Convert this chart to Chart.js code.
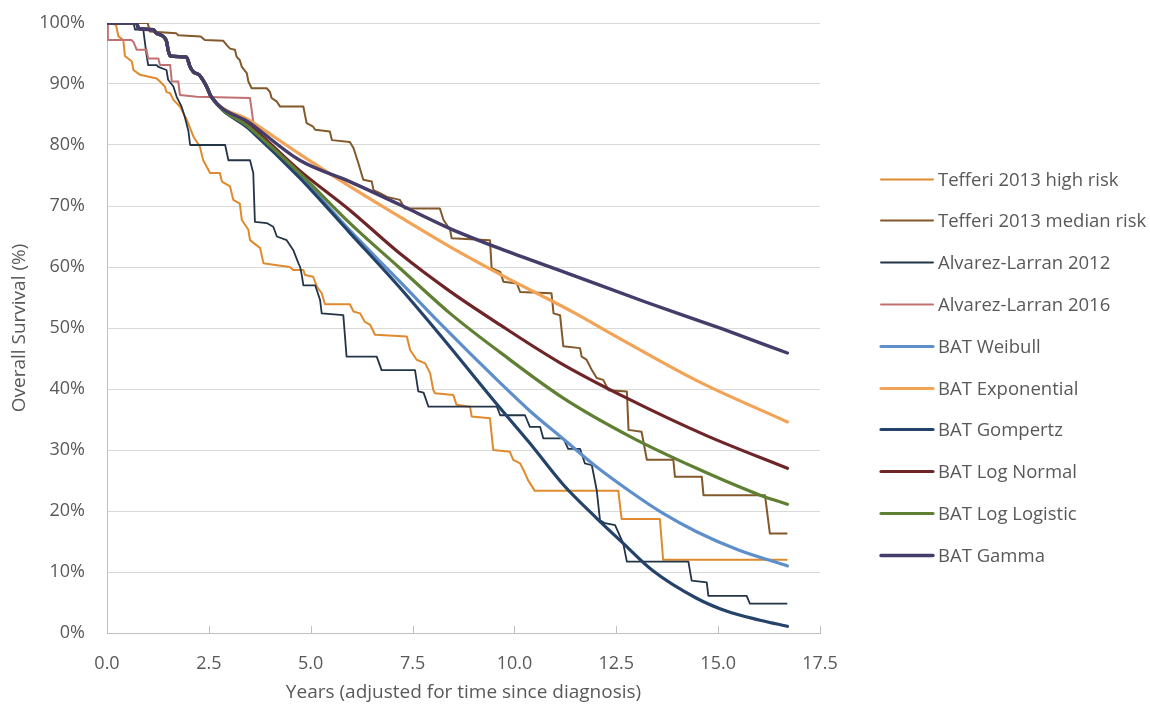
<!DOCTYPE html>
<html>
<head>
<meta charset="utf-8">
<script src="https://cdn.jsdelivr.net/npm/chart.js@4.4.1/dist/chart.umd.min.js"></script>
<style>
html,body{margin:0;padding:0;background:#fff;}
#wrap{width:1150px;height:704px;position:relative;}
</style>
</head>
<body>
<div id="wrap"><canvas id="c"></canvas></div>
<script>
// ---------- data ----------
const seriesNames = ["Tefferi 2013 high risk","Tefferi 2013 median risk","Alvarez-Larran 2012","Alvarez-Larran 2016",
  "BAT Weibull","BAT Exponential","BAT Gompertz","BAT Log Normal","BAT Log Logistic","BAT Gamma"];

const xTicks = [0,2.5,5,7.5,10,12.5,15,17.5];
const yTicks = [0,10,20,30,40,50,60,70,80,90,100];

// Kaplan-Meier style curves (years, % survival)
const tefferiHighT = [0,0.22,0.28,0.4,0.44,0.61,0.65,0.81,1.22,1.3,1.42,1.46,1.55,1.63,1.79,1.96,2.12,2.28,2.36,2.53,2.77,2.82,3.02,3.1,3.26,3.31,3.47,3.51,3.76,3.84,4.17,4.49,4.57,4.82,4.86,5.06,5.15,5.27,5.35,5.96,6.05,6.21,6.33,6.46,6.58,7.36,7.44,7.6,7.81,7.93,8.01,8.05,8.5,8.58,8.91,8.95,9.4,9.48,9.89,9.97,10.14,10.26,10.33,10.5,12.55,12.63,13.57,13.65,16.68];
const tefferiHighV = [100,99.7,97.8,97.2,94.6,93.7,92.3,91.5,90.9,90.4,89.6,88.7,88.5,87.4,86.3,84.1,81.4,79.7,77.5,75.4,75.4,74,73.2,71,70.4,67.7,66.1,64.4,63.1,60.6,60.3,60,59.5,59.5,58.7,58.4,56.8,55.7,53.9,53.9,52.7,52.4,51,50.5,48.9,48.6,46.4,44.8,44.2,42.6,39.8,39.3,39,37.4,37.1,35.5,35.2,30,29.7,28.4,27.8,26.2,25.1,23.3,23.3,18.7,18.7,12,12];

const tefferiMedT = [0,1.0,1.05,1.7,1.75,2.3,2.4,2.85,2.95,3.02,3.14,3.18,3.26,3.31,3.43,3.47,3.55,3.92,4.0,4.04,4.17,4.25,4.82,4.86,4.9,5.06,5.11,5.47,5.52,5.96,6.05,6.17,6.29,6.5,6.54,6.7,6.87,7.19,7.31,8.17,8.26,8.42,8.46,9.4,9.44,9.65,9.73,10.06,10.14,10.91,10.96,11.12,11.2,11.61,11.65,11.77,11.9,12.02,12.18,12.31,12.76,12.8,13.12,13.25,13.9,13.94,14.6,14.64,16.15,16.27,16.68];
const tefferiMedV = [100,100,98.6,98.3,98,97.8,97.2,97.1,96.3,95.8,95.6,94.5,93.9,92.8,91.8,90.4,89.3,89.3,88.7,87.7,87.1,86.3,86.3,84.9,83.6,83,82.5,82.2,80.8,80.5,79.5,77,74.3,74,72.6,72.1,71.5,71,69.6,69.6,67.7,66.1,64.7,64.4,59.8,59.2,57.6,57.3,55.9,55.7,52.4,52.1,47,46.7,45.3,44.8,43.1,41.8,41.5,39.8,39.6,33.3,33,28.4,28.4,25.6,25.6,22.6,22.6,16.3,16.3];

const alvarez2012T = [0,0.65,0.69,0.89,0.97,1.01,1.22,1.26,1.46,1.5,1.63,1.71,1.83,1.91,2.0,2.04,2.9,2.98,3.51,3.59,3.63,3.92,4.08,4.17,4.41,4.57,4.7,4.74,4.78,4.82,5.11,5.23,5.27,5.8,5.88,6.62,6.74,7.56,7.64,7.77,7.89,9.57,9.65,10.26,10.38,10.63,10.71,11.2,11.32,11.61,11.73,11.9,12.02,12.1,12.22,12.47,12.67,12.76,14.27,14.35,14.72,14.76,15.7,15.78,16.68];
const alvarez2012V = [100,100,98.9,98.9,94.8,93.1,93.1,92.8,92.3,90.7,89.6,87.9,86.3,84.6,82.2,80,80,77.5,77.5,75.4,67.4,67.2,66.6,65,64.4,62.8,60.6,60,58.7,57,57,54.6,52.4,52.1,45.3,45.3,43.1,43.1,39.6,39.4,37.1,37.1,35.7,35.7,33.8,33.8,31.9,31.9,30.2,30.2,27.8,27.5,23.4,18.5,18,17.7,14.7,11.7,11.7,8.6,8.3,6.1,6.1,4.8,4.8];

const alvarez2016T = [0,0.02,0.6,0.65,0.73,0.97,1.01,1.26,1.3,1.55,1.59,1.75,1.79,2.2,3.51,3.59];
const alvarez2016V = [100,97.2,97.2,96.9,95.6,95.6,94.2,94.2,93.1,93.1,90.4,90.4,88.2,87.9,87.7,83.8];

// BAT fitted curves: common observed start, then each model's extrapolation
const batEarlyT = [0,0.73,0.77,1.14,1.2,1.38,1.46,1.5,1.55,1.95,2.04,2.12,2.26,2.36,2.45,2.55];
const batEarlyV = [100,100,99.1,98.9,98.4,97.8,97,95.6,94.6,94.4,92.8,92,91.5,90.6,89.5,88];

const weibullT = [3.51,4.73,5.96,7.19,8.17,9.65,10.38,11.2,12.02,12.84,13.65,14.47,15.5,16.7];
const weibullV = [82.6,75,66,57.6,50.8,41,36.4,31.8,27.2,23.2,19.6,16.6,13.6,11];

const exponentialT = [3.51,4.73,5.96,7.19,8.42,9.65,11.44,12.5,14.5,16.7];
const exponentialV = [84,78.5,73.2,68.2,63.3,58.8,52.6,48.6,41.3,34.6];

const gompertzT = [3.51,4.73,5.96,7.19,8.17,9.57,10.38,11.2,12.02,12.67,13.4,14.47,15.2,16.03,16.7];
const gompertzV = [82.5,74.6,65.6,56.6,48.9,37.5,31.1,24.3,18.8,14.7,10.2,5.7,3.6,2.1,1.1];

const logNormalT = [3.51,4.73,5.96,7.19,8.42,9.65,11.12,12.76,14.7,16.7];
const logNormalV = [83.2,75.8,69.3,62.2,56,50.5,44.3,38.5,32.4,27];

const logLogisticT = [3.51,4.73,5.96,7.19,8.42,9.65,11.2,12.84,14.47,16.03,16.7];
const logLogisticV = [82.8,75.4,67.2,59.8,52.4,46,38.5,32.2,27,22.6,21.1];

const gammaT = [3.51,4.73,5.96,7.19,8.42,9.65,11.29,13.2,15.12,16.7];
const gammaV = [83.6,77.5,74,70.2,66.3,63,59,54.3,49.8,45.9];

// ---------- styling ----------
const seriesColors = ["#E08A2E","#83582A","#233447","#C07070","#5E8FCB","#F2A356","#24426A","#6E2528","#5F7F32","#463C6A"];
const seriesWidths = [2,2,1.8,2,3.2,3.2,3.2,3.2,3.2,3.4];
const FONT = "'Open Sans', sans-serif";
const TXT = "#595959";

function pts(t, v){ return t.map((x,i)=>({x:x, y:v[i]})); }
function batPts(t, v){ return pts(batEarlyT.concat(t), batEarlyV.concat(v)); }

const seriesData = [
  pts(tefferiHighT, tefferiHighV),
  pts(tefferiMedT, tefferiMedV),
  pts(alvarez2012T, alvarez2012V),
  pts(alvarez2016T, alvarez2016V),
  batPts(weibullT, weibullV),
  batPts(exponentialT, exponentialV),
  batPts(gompertzT, gompertzV),
  batPts(logNormalT, logNormalV),
  batPts(logLogisticT, logLogisticV),
  batPts(gammaT, gammaV)
];

const datasets = seriesData.map((d,i)=>({
  label: seriesNames[i],
  data: d,
  borderColor: seriesColors[i],
  backgroundColor: seriesColors[i],
  borderWidth: seriesWidths[i],
  pointRadius: 0,
  pointHoverRadius: 0,
  fill: false,
  tension: 0,
  cubicInterpolationMode: i >= 4 ? 'monotone' : 'default',
  borderJoinStyle: 'round',
  borderCapStyle: 'round',
  order: seriesNames.length - i
}));

// inside tick marks on the x axis (drawn from the scale's own tick pixels)
const insideTicks = {
  id: 'insideTicks',
  beforeDatasetsDraw(chart){
    const s = chart.scales.x, ctx = chart.ctx, yb = chart.chartArea.bottom;
    ctx.save();
    ctx.strokeStyle = '#bfbfbf'; ctx.lineWidth = 1;
    s.ticks.forEach((t,i)=>{
      const px = Math.round(s.getPixelForTick(i)) + 0.5;
      ctx.beginPath(); ctx.moveTo(px, yb); ctx.lineTo(px, yb - 7); ctx.stroke();
    });
    ctx.restore();
  }
};

// legend at the right, built from the datasets
const sideLegend = {
  id: 'sideLegend',
  afterDraw(chart){
    const ctx = chart.ctx, ca = chart.chartArea;
    const x0 = ca.right + 61, len = 52, tx = ca.right + 118;
    const y0 = 178.5, dy = 41.8;
    ctx.save();
    ctx.font = "18.5px " + FONT;
    ctx.textBaseline = 'middle';
    ctx.textAlign = 'left';
    chart.data.datasets.forEach((ds,i)=>{
      const y = Math.round(y0 + i*dy) + 0.5;
      ctx.strokeStyle = ds.borderColor;
      ctx.lineWidth = ds.borderWidth;
      ctx.lineCap = 'round';
      ctx.beginPath(); ctx.moveTo(x0, y); ctx.lineTo(x0+len, y); ctx.stroke();
      ctx.fillStyle = TXT;
      ctx.fillText(ds.label, tx, y + 1);
    });
    ctx.restore();
  }
};

new Chart(document.getElementById('c'), {
  type: 'line',
  data: { datasets: datasets },
  plugins: [insideTicks, sideLegend],
  options: {
    responsive: true,
    maintainAspectRatio: false,
    animation: false,
    layout: { padding: { left: 0, right: 330, top: 23, bottom: 0 } },
    plugins: { legend: { display: false }, tooltip: { enabled: false } },
    scales: {
      x: {
        type: 'linear', min: 0, max: 17.5,
        afterBuildTicks: s => { s.ticks = xTicks.map(v=>({value:v})); },
        afterFit: s => { s.height = 71; s.paddingLeft = 0; s.paddingRight = 0; },
        ticks: { callback: v => Number(v).toFixed(1), color: TXT, font: { family: FONT, size: 18 }, padding: 20, maxRotation: 0 },
        grid: { display: true, drawOnChartArea: false, drawTicks: false },
        border: { display: true, color: '#bfbfbf', width: 1 },
        title: { display: true, text: 'Years (adjusted for time since diagnosis)', color: TXT, font: { family: FONT, size: 19 }, padding: { top: 0, bottom: 0 } }
      },
      y: {
        min: 0, max: 100,
        afterBuildTicks: s => { s.ticks = yTicks.map(v=>({value:v})); },
        afterFit: s => { s.width = 107; s.paddingTop = 0; s.paddingBottom = 0; },
        ticks: { callback: v => v + '%', color: TXT, font: { family: FONT, size: 18 }, padding: 22 },
        grid: { color: '#d9d9d9', lineWidth: 1, drawTicks: false },
        border: { display: true, color: '#bfbfbf', width: 1 },
        title: { display: true, text: 'Overall Survival (%)', color: TXT, font: { family: FONT, size: 19 }, padding: { top: 8, bottom: 0 } }
      }
    }
  }
});
</script>
</body>
</html>
